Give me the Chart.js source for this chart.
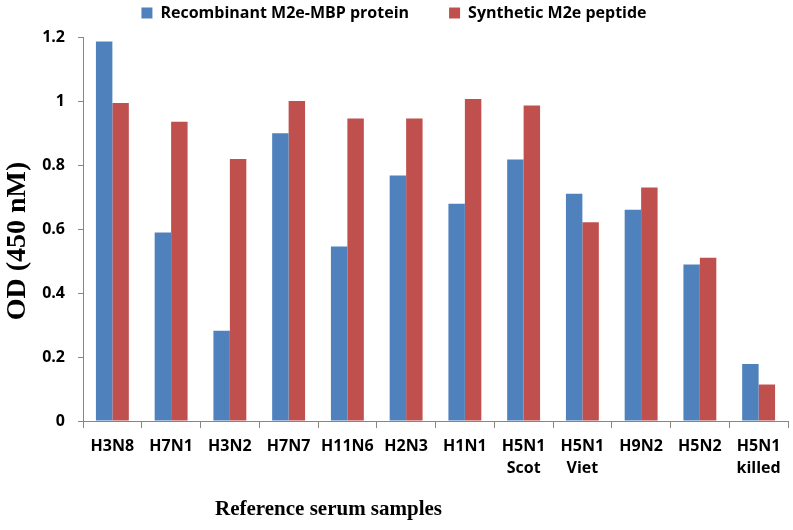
<!DOCTYPE html>
<html>
<head>
<meta charset="utf-8">
<script src="https://cdn.jsdelivr.net/npm/chart.js@4.4.1/dist/chart.umd.min.js"></script>
<style>
    html, body { margin: 0; padding: 0; background: #fff; }
    #wrap { width: 793px; height: 530px; }
</style>
</head>
<body>
<div id="wrap"><canvas id="odChart" width="793" height="530"></canvas></div>
<script>
// Data
const samples = [['H3N8'], ['H7N1'], ['H3N2'], ['H7N7'], ['H11N6'], ['H2N3'], ['H1N1'],
    ['H5N1', 'Scot'], ['H5N1', 'Viet'], ['H9N2'], ['H5N2'], ['H5N1', 'killed']];
const recombinant = [1.186, 0.589, 0.282, 0.899, 0.545, 0.767, 0.679, 0.817, 0.710, 0.660, 0.489, 0.178];
const synthetic = [0.994, 0.935, 0.819, 1.0, 0.945, 0.945, 1.006, 0.986, 0.621, 0.730, 0.510, 0.114];
const yTickLabels = ['0', '0.2', '0.4', '0.6', '0.8', '1', '1.2'];

const axisGrey = '#868686';

// Axis titles sit off-centre in the original, so draw them by hand
const axisTitles = {
    id: 'axisTitles',
    afterInit(chart) {
        const fit = chart.legend.fit;
        chart.legend.fit = function () {
            fit.call(this);
            this.height = 37;
        };
    },
    afterLayout(chart) {
        // keep wide item spacing but pull the legend row up
        chart.legend.top = -35;
    },
    afterDraw(chart) {
        const ctx = chart.ctx;
        const area = chart.chartArea;
        ctx.save();
        ctx.fillStyle = '#000';
        ctx.font = 'bold 21px "Liberation Serif"';
        ctx.textAlign = 'left';
        ctx.textBaseline = 'alphabetic';
        ctx.fillText('Reference serum samples', area.left + 132, 515);

        ctx.font = 'bold 28px "Liberation Serif"';
        ctx.textAlign = 'center';
        ctx.translate(25, area.top + 204);
        ctx.rotate(-Math.PI / 2);
        ctx.fillText('OD (450 nM)', 0, 0);
        ctx.restore();
    }
};

const ctx = document.getElementById('odChart').getContext('2d');
new Chart(ctx, {
    type: 'bar',
    data: {
        labels: samples,
        datasets: [{
            label: 'Recombinant M2e-MBP protein',
            data: recombinant,
            backgroundColor: '#4F81BD'
        }, {
            label: 'Synthetic M2e peptide',
            data: synthetic,
            backgroundColor: '#C0504D'
        }]
    },
    options: {
        responsive: false,
        animation: false,
        layout: { padding: { left: 0, right: 5, top: 0, bottom: 0 } },
        datasets: {
            bar: { categoryPercentage: 0.56, barPercentage: 1.0 }
        },
        plugins: {
            legend: {
                position: 'top',
                labels: {
                    boxWidth: 11,
                    boxHeight: 11,
                    padding: 40,
                    color: '#000',
                    font: { family: '"Open Sans"', size: 16, weight: 'bold' }
                }
            },
            tooltip: { enabled: false }
        },
        scales: {
            x: {
                afterFit(scale) { scale.height = 109; },
                grid: {
                    drawOnChartArea: false,
                    tickLength: 7,
                    color: axisGrey
                },
                border: { color: axisGrey },
                ticks: {
                    color: '#000',
                    padding: 7,
                    maxRotation: 0,
                    autoSkip: false,
                    font: { family: '"Open Sans"', size: 16, weight: 'bold', lineHeight: 1.4 }
                }
            },
            y: {
                min: 0,
                max: 1.2,
                afterFit(scale) { scale.width = 83; },
                grid: {
                    drawOnChartArea: false,
                    tickLength: 5,
                    color: axisGrey
                },
                border: { color: axisGrey },
                ticks: {
                    stepSize: 0.2,
                    color: '#000',
                    padding: 13,
                    font: { family: '"Open Sans"', size: 16, weight: 'bold' },
                    callback: (v, i) => yTickLabels[i]
                }
            }
        }
    },
    plugins: [axisTitles]
});
</script>
</body>
</html>
